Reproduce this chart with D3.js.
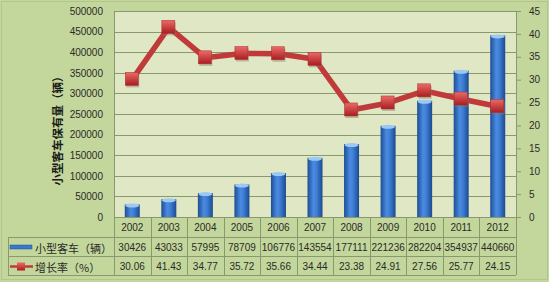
<!DOCTYPE html>
<html>
<head>
<meta charset="utf-8">
<script src="https://cdn.jsdelivr.net/npm/d3@7"></script>
<style>
  body { margin: 0; background: #c3d69b; }
  svg { display: block; font-family: "Liberation Sans", "Noto Sans CJK SC", sans-serif; }
</style>
</head>
<body>
<svg width="549" height="282"></svg>
<script>
const years = ['2002','2003','2004','2005','2006','2007','2008','2009','2010','2011','2012'];
const cars = [30426, 43033, 57995, 78709, 106776, 143554, 177111, 221236, 282204, 354937, 440660];
const growth = [30.06, 41.43, 34.77, 35.72, 35.66, 34.44, 23.38, 24.91, 27.56, 25.77, 24.15];
const carLabel = '小型客车（辆）';
const growthLabel = '增长率（%）';
const yTitle = '小型客车保有量（辆）';

const svg = d3.select('svg');
const W = 549, H = 282;
const pLeft = 114, pRight = 516, pTop = 11, pBottom = 217;
const rowTop = 237, rowH = 19;
const gridCol = '#8a9870';
const txtCol = '#2a2a2a';

// background + outer frame
svg.append('rect').attr('width', W).attr('height', H).attr('fill', '#c3d69b');
svg.append('rect').attr('x', 1.5).attr('y', 1.5).attr('width', W - 3).attr('height', H - 4)
    .attr('fill', 'none').attr('stroke', '#b3c48c');

const defs = svg.append('defs');
const bg = defs.append('linearGradient').attr('id', 'bar').attr('x1', 0).attr('x2', 1);
bg.append('stop').attr('offset', '0%').attr('stop-color', '#1d4d96');
bg.append('stop').attr('offset', '40%').attr('stop-color', '#4a8be0');
bg.append('stop').attr('offset', '60%').attr('stop-color', '#3f7fd6');
bg.append('stop').attr('offset', '100%').attr('stop-color', '#1b4a90');
const mg = defs.append('linearGradient').attr('id', 'mk').attr('x1', 0).attr('y1', 0).attr('x2', 0).attr('y2', 1);
mg.append('stop').attr('offset', '0%').attr('stop-color', '#ea6a66');
mg.append('stop').attr('offset', '100%').attr('stop-color', '#a81e22');

const x = d3.scaleBand().domain(years).range([pLeft, pRight]);
const yL = d3.scaleLinear().domain([0, 500000]).range([pBottom, pTop]);
const yR = d3.scaleLinear().domain([0, 45]).range([pBottom, pTop]);

// plot area
svg.append('rect').attr('x', pLeft).attr('y', pTop).attr('width', pRight - pLeft).attr('height', pBottom - pTop)
    .attr('fill', '#dfe7c5');

svg.append('g').selectAll('line').data(yL.ticks(10)).join('line')
    .attr('x1', pLeft).attr('x2', pRight)
    .attr('y1', d => Math.round(yL(d)) + 0.5).attr('y2', d => Math.round(yL(d)) + 0.5)
    .attr('stroke', gridCol).attr('stroke-width', 1);

// left axis
const axL = svg.append('g').attr('transform', `translate(${pLeft},0)`)
    .call(d3.axisLeft(yL).ticks(10).tickSize(0).tickPadding(11).tickFormat(d3.format('d')));
axL.select('.domain').attr('stroke', gridCol);
axL.selectAll('text').attr('font-size', 10).attr('fill', txtCol);

// right axis
const axR = svg.append('g').attr('transform', `translate(${pRight},0)`)
    .call(d3.axisRight(yR).ticks(9).tickSize(5).tickPadding(8));
axR.select('.domain').attr('stroke', gridCol);
axR.selectAll('line').attr('stroke', gridCol);
axR.selectAll('text').attr('font-size', 10).attr('fill', txtCol);

// y title
svg.append('text').attr('transform', 'translate(59,128) rotate(-90)')
    .attr('text-anchor', 'middle').attr('dominant-baseline', 'middle')
    .attr('font-size', 11.5).attr('font-weight', 'bold').attr('fill', '#1a1a1a')
    .attr('font-family', '"Noto Sans CJK SC", sans-serif')
    .text(yTitle);

// bars
const bw = 15;
const bars = svg.append('g').selectAll('g').data(years).join('g');
bars.append('rect')
    .attr('x', d => x(d) + x.bandwidth() / 2 - bw / 2)
    .attr('y', (d, i) => yL(cars[i]))
    .attr('width', bw)
    .attr('height', (d, i) => pBottom - yL(cars[i]))
    .attr('fill', 'url(#bar)');
bars.append('ellipse')
    .attr('cx', d => x(d) + x.bandwidth() / 2)
    .attr('cy', (d, i) => yL(cars[i]) + 1)
    .attr('rx', bw / 2 - 0.5).attr('ry', 2)
    .attr('fill', '#9cc8f4');

// line
const pts = years.map((d, i) => [x(d) + x.bandwidth() / 2, yR(growth[i])]);
svg.append('path').attr('d', d3.line()(pts))
    .attr('fill', 'none').attr('stroke', '#c03a3a').attr('stroke-width', 5.5).attr('stroke-linejoin', 'round');
const mks = svg.append('g').selectAll('g').data(pts).join('g');
mks.append('rect').attr('x', d => d[0] - 6).attr('y', d => d[1] - 5)
    .attr('width', 13).attr('height', 13).attr('fill', '#8a7a6a').attr('opacity', 0.45);
mks.append('rect').attr('x', d => d[0] - 7).attr('y', d => d[1] - 7)
    .attr('width', 13).attr('height', 13).attr('fill', 'url(#mk)').attr('stroke', '#b02a2a').attr('stroke-width', 0.5);

// data table
const tbl = svg.append('g').attr('stroke', gridCol).attr('stroke-width', 1);
const colX = years.map(d => x(d)).concat([pRight]);
colX.forEach(cx => {
    tbl.append('line').attr('x1', Math.round(cx) + 0.5).attr('x2', Math.round(cx) + 0.5)
        .attr('y1', pBottom).attr('y2', rowTop + 2 * rowH);
});
[rowTop, rowTop + rowH, rowTop + 2 * rowH].forEach(ry => {
    tbl.append('line').attr('x1', 8).attr('x2', pRight).attr('y1', ry + 0.5).attr('y2', ry + 0.5);
});
tbl.append('line').attr('x1', 8.5).attr('x2', 8.5).attr('y1', rowTop).attr('y2', rowTop + 2 * rowH);

const cellText = (vals, cy) => svg.append('g').selectAll('text').data(vals).join('text')
    .attr('x', (d, i) => x(years[i]) + x.bandwidth() / 2)
    .attr('y', cy).attr('text-anchor', 'middle').attr('dominant-baseline', 'central')
    .attr('font-size', 10).attr('fill', txtCol).text(d => d);

cellText(years, pBottom + 10);
cellText(cars, rowTop + rowH / 2 + 1);
cellText(growth.map(d => d.toFixed(2)), rowTop + rowH * 1.5 + 1);

// legend keys in table
svg.append('rect').attr('x', 10).attr('y', rowTop + 8).attr('width', 22).attr('height', 4)
    .attr('fill', '#3a78cc').attr('stroke', '#1f4f96').attr('stroke-width', 0.5);
svg.append('line').attr('x1', 10).attr('x2', 33).attr('y1', rowTop + rowH * 1.5 + 1).attr('y2', rowTop + rowH * 1.5 + 1)
    .attr('stroke', '#c03a3a').attr('stroke-width', 2.5);
svg.append('rect').attr('x', 17).attr('y', rowTop + rowH * 1.5 - 3).attr('width', 8).attr('height', 8)
    .attr('fill', 'url(#mk)');
svg.append('text').attr('x', 35).attr('y', rowTop + rowH / 2 + 1).attr('dominant-baseline', 'central')
    .attr('font-size', 11).attr('fill', txtCol).attr('font-family', '"Noto Sans CJK SC", sans-serif').text(carLabel);
svg.append('text').attr('x', 35).attr('y', rowTop + rowH * 1.5 + 1).attr('dominant-baseline', 'central')
    .attr('font-size', 11).attr('fill', txtCol).attr('font-family', '"Noto Sans CJK SC", sans-serif').text(growthLabel);
</script>
</body>
</html>
